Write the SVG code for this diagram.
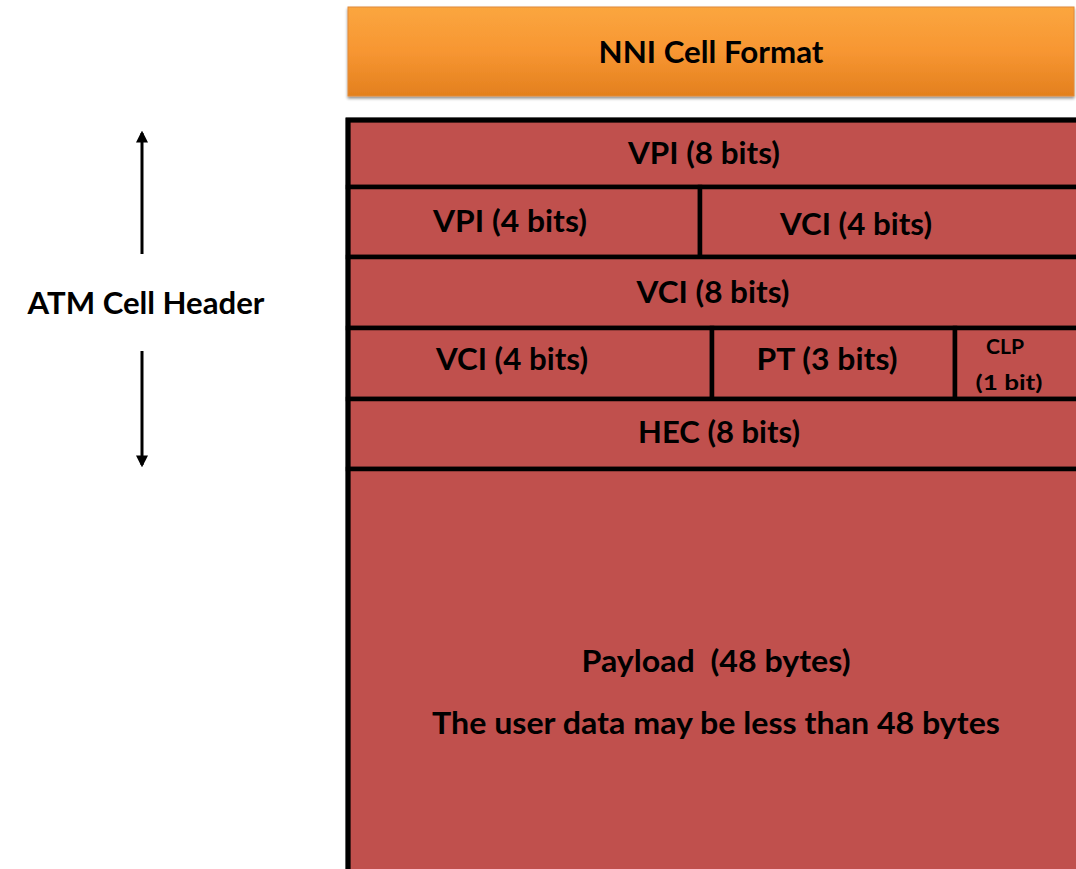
<svg xmlns="http://www.w3.org/2000/svg" width="1076" height="869" viewBox="0 0 1076 869">
  <style>
    .lbl { font-family: Lato, "Open Sans", "Liberation Sans", sans-serif; font-weight: bold; fill: #000; text-anchor: middle; white-space: pre; }
    .big { font-size: 30px; }
    .small { font-size: 20px; }
    .cell { fill: #C0504D; stroke: #000; stroke-width: 4.5; }
    .arrow { stroke: #000; stroke-width: 3; fill: none; }
  </style>
  <defs>
    <linearGradient id="orangeFill" x1="0" y1="0" x2="0" y2="1">
      <stop offset="0" stop-color="#FBA63F"/>
      <stop offset="0.5" stop-color="#F79632"/>
      <stop offset="1" stop-color="#E3801E"/>
    </linearGradient>
    <filter id="drop" x="-5%" y="-10%" width="110%" height="130%">
      <feGaussianBlur in="SourceAlpha" stdDeviation="1.5"/>
      <feOffset dx="0" dy="2" result="b"/>
      <feComponentTransfer><feFuncA type="linear" slope="0.45"/></feComponentTransfer>
      <feMerge><feMergeNode/><feMergeNode in="SourceGraphic"/></feMerge>
    </filter>
    <marker id="head" viewBox="0 0 10 10" refX="8" refY="5" markerWidth="4" markerHeight="4" orient="auto">
      <path d="M0,0 L10,5 L0,10 z" fill="#000"/>
    </marker>
  </defs>

  <rect width="1076" height="869" fill="#fff"/>

  <!-- title bar -->
  <g id="title">
    <rect x="348" y="7" width="726" height="89" fill="url(#orangeFill)" stroke="#E08A3A" stroke-width="1" filter="url(#drop)"/>
    <text class="lbl big" x="711" y="63" textLength="225" lengthAdjust="spacingAndGlyphs">NNI Cell Format</text>
  </g>

  <!-- header label on the left -->
  <g id="header-label">
    <text class="lbl big" x="146" y="314" textLength="237" lengthAdjust="spacingAndGlyphs">ATM Cell Header</text>
  </g>

  <!-- cell layout -->
  <g id="vpi8">
    <rect class="cell" x="348" y="120" width="740" height="67"/>
    <text class="lbl big" x="704" y="164" textLength="152" lengthAdjust="spacingAndGlyphs">VPI (8 bits)</text>
  </g>
  <g id="vpi4">
    <rect class="cell" x="348" y="187" width="352" height="70"/>
    <text class="lbl big" x="510" y="232" textLength="154" lengthAdjust="spacingAndGlyphs">VPI (4 bits)</text>
  </g>
  <g id="vci4-upper">
    <rect class="cell" x="700" y="187" width="388" height="70"/>
    <text class="lbl big" x="856" y="235" textLength="152" lengthAdjust="spacingAndGlyphs">VCI (4 bits)</text>
  </g>
  <g id="vci8">
    <rect class="cell" x="348" y="257" width="740" height="71"/>
    <text class="lbl big" x="713" y="303" textLength="153" lengthAdjust="spacingAndGlyphs">VCI (8 bits)</text>
  </g>
  <g id="vci4-lower">
    <rect class="cell" x="348" y="328" width="364" height="71"/>
    <text class="lbl big" x="512" y="370" textLength="152" lengthAdjust="spacingAndGlyphs">VCI (4 bits)</text>
  </g>
  <g id="pt">
    <rect class="cell" x="712" y="328" width="243" height="71"/>
    <text class="lbl big" x="827" y="370" textLength="141" lengthAdjust="spacingAndGlyphs">PT (3 bits)</text>
  </g>
  <g id="clp">
    <rect class="cell" x="955" y="328" width="133" height="71"/>
    <text class="lbl small" x="1005" y="354" textLength="38" lengthAdjust="spacingAndGlyphs">CLP</text>
    <text class="lbl small" x="1009" y="390" textLength="67" lengthAdjust="spacingAndGlyphs">(1 bit)</text>
  </g>
  <g id="hec">
    <rect class="cell" x="348" y="399" width="740" height="70"/>
    <text class="lbl big" x="719" y="443" textLength="162" lengthAdjust="spacingAndGlyphs">HEC (8 bits)</text>
  </g>
  <g id="payload">
    <rect class="cell" x="348" y="469" width="740" height="420"/>
    <text class="lbl big" x="716" y="672" textLength="269" lengthAdjust="spacingAndGlyphs">Payload  (48 bytes)</text>
    <text class="lbl big" x="716" y="734" textLength="568" lengthAdjust="spacingAndGlyphs">The user data may be less than 48 bytes</text>
  </g>

  <!-- outer frame -->
  <rect x="348" y="120" width="740" height="769" fill="none" stroke="#000" stroke-width="5"/>

  <!-- span arrows for the header -->
  <g id="connectors">
    <line class="arrow" x1="142" y1="254" x2="142" y2="133" marker-end="url(#head)"/>
    <line class="arrow" x1="142" y1="351" x2="142" y2="465" marker-end="url(#head)"/>
  </g>
</svg>
